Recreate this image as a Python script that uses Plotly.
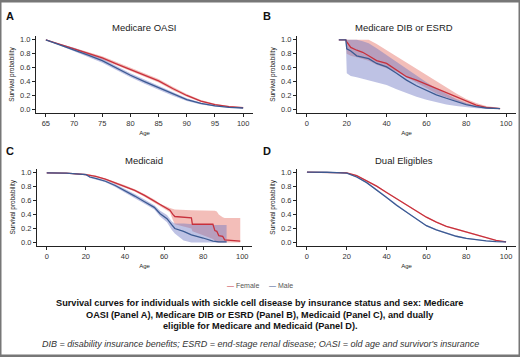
import plotly.graph_objects as go

# ---------------- DATA ----------------
# Panel A: Medicare OASI
a_age = [65, 67.5, 70, 72.5, 75, 77.5, 80, 82.5, 85, 87.5, 90, 92.5, 95, 97.5, 100]
a_f = [1.0, 0.935, 0.87, 0.805, 0.74, 0.655, 0.57, 0.49, 0.41, 0.30, 0.20, 0.12, 0.07, 0.04, 0.025]
a_f_hi = [1.0, 0.945, 0.885, 0.825, 0.765, 0.68, 0.595, 0.515, 0.435, 0.325, 0.22, 0.135, 0.08, 0.048, 0.032]
a_f_lo = [1.0, 0.925, 0.855, 0.785, 0.715, 0.63, 0.545, 0.465, 0.385, 0.275, 0.18, 0.105, 0.06, 0.032, 0.018]
a_m = [1.0, 0.93, 0.86, 0.78, 0.70, 0.595, 0.49, 0.40, 0.31, 0.22, 0.14, 0.085, 0.05, 0.03, 0.02]
a_m_hi = [1.0, 0.945, 0.885, 0.81, 0.73, 0.625, 0.52, 0.43, 0.34, 0.245, 0.16, 0.10, 0.062, 0.04, 0.028]
a_m_lo = [1.0, 0.915, 0.835, 0.75, 0.67, 0.565, 0.46, 0.37, 0.28, 0.195, 0.12, 0.07, 0.04, 0.022, 0.014]

# Panel B: Medicare DIB or ESRD
b_age = [16, 19.5, 20, 22, 25, 28, 31, 35, 40, 45, 50, 55, 60, 65, 70, 75, 80, 85, 90, 97]
b_f = [1.0, 1.0, 0.97, 0.89, 0.85, 0.82, 0.77, 0.70, 0.66, 0.56, 0.47, 0.42, 0.36, 0.29, 0.23, 0.17, 0.11, 0.06, 0.03, 0.01]
b_f_hi = [1.0, 1.0, 1.0, 1.0, 1.0, 1.0, 1.0, 0.94, 0.85, 0.76, 0.68, 0.59, 0.50, 0.40, 0.31, 0.23, 0.15, 0.09, 0.05, 0.02]
b_f_lo = [1.0, 1.0, 0.80, 0.77, 0.75, 0.72, 0.70, 0.64, 0.59, 0.54, 0.46, 0.38, 0.30, 0.23, 0.17, 0.12, 0.07, 0.035, 0.015, 0.005]
b_m = [1.0, 1.0, 0.87, 0.84, 0.77, 0.75, 0.73, 0.66, 0.61, 0.52, 0.42, 0.34, 0.27, 0.21, 0.16, 0.11, 0.07, 0.04, 0.02, 0.01]
b_m_hi = [1.0, 1.0, 1.0, 1.0, 1.0, 0.98, 0.95, 0.88, 0.78, 0.68, 0.58, 0.48, 0.39, 0.30, 0.22, 0.15, 0.09, 0.05, 0.025, 0.012]
b_m_lo = [1.0, 1.0, 0.52, 0.48, 0.46, 0.44, 0.42, 0.39, 0.35, 0.29, 0.23, 0.18, 0.14, 0.10, 0.07, 0.05, 0.03, 0.015, 0.008, 0.004]

# Panel C: Medicaid
c_f_age = [0, 10, 20, 22, 25, 30, 35, 40, 45, 50, 55, 58, 63, 64.5, 65.5, 74, 74.5, 85, 86, 87, 88, 90, 91, 99]
c_f = [0.99, 0.985, 0.965, 0.955, 0.94, 0.90, 0.85, 0.80, 0.74, 0.67, 0.59, 0.53, 0.46, 0.40, 0.37, 0.35, 0.26, 0.26, 0.17, 0.16, 0.10, 0.09, 0.04, 0.02]
c_f_hi = [0.995, 0.99, 0.975, 0.965, 0.95, 0.91, 0.865, 0.815, 0.755, 0.69, 0.61, 0.55, 0.49, 0.48, 0.47, 0.46, 0.46, 0.46, 0.45, 0.44, 0.40, 0.36, 0.35, 0.35]
c_f_lo = [0.985, 0.98, 0.955, 0.945, 0.93, 0.885, 0.835, 0.785, 0.725, 0.65, 0.57, 0.51, 0.43, 0.32, 0.26, 0.20, 0.16, 0.05, 0.02, 0.0, 0.0, 0.0, 0.0, 0.0]
c_m_age = [0, 10, 20, 22, 25, 30, 35, 40, 45, 50, 55, 58, 61.5, 64, 65.5, 70, 74, 80, 85, 88, 92]
c_m = [0.99, 0.985, 0.965, 0.93, 0.91, 0.87, 0.81, 0.74, 0.66, 0.58, 0.50, 0.41, 0.34, 0.25, 0.20, 0.16, 0.11, 0.065, 0.02, 0.01, 0.01]
c_m_hi = [0.995, 0.99, 0.975, 0.945, 0.925, 0.885, 0.83, 0.765, 0.69, 0.61, 0.53, 0.45, 0.39, 0.30, 0.27, 0.27, 0.26, 0.25, 0.25, 0.25, 0.25]
c_m_lo = [0.985, 0.98, 0.955, 0.915, 0.895, 0.855, 0.79, 0.715, 0.63, 0.55, 0.47, 0.37, 0.29, 0.18, 0.13, 0.03, 0.0, 0.0, 0.0, 0.0, 0.0]

# Panel D: Dual Eligibles
d_age = [0, 10, 20, 25, 30, 35, 40, 45, 50, 55, 60, 65, 70, 75, 80, 85, 90, 95, 100]
d_f = [1.0, 0.998, 0.99, 0.95, 0.88, 0.80, 0.71, 0.62, 0.54, 0.45, 0.36, 0.29, 0.23, 0.19, 0.15, 0.11, 0.065, 0.03, 0.01]
d_f_hi = [1.0, 1.0, 0.995, 0.96, 0.89, 0.81, 0.72, 0.63, 0.55, 0.46, 0.37, 0.30, 0.24, 0.20, 0.16, 0.12, 0.072, 0.036, 0.015]
d_f_lo = [1.0, 0.996, 0.985, 0.94, 0.87, 0.79, 0.70, 0.61, 0.53, 0.44, 0.35, 0.28, 0.22, 0.18, 0.14, 0.10, 0.058, 0.024, 0.005]
d_m = [1.0, 0.998, 0.985, 0.93, 0.85, 0.75, 0.64, 0.53, 0.43, 0.33, 0.24, 0.18, 0.13, 0.09, 0.06, 0.04, 0.025, 0.015, 0.01]
d_m_hi = [1.0, 1.0, 0.99, 0.94, 0.86, 0.76, 0.65, 0.54, 0.44, 0.34, 0.25, 0.19, 0.14, 0.10, 0.068, 0.047, 0.031, 0.02, 0.014]
d_m_lo = [1.0, 0.996, 0.98, 0.92, 0.84, 0.74, 0.63, 0.52, 0.42, 0.32, 0.23, 0.17, 0.12, 0.08, 0.052, 0.033, 0.019, 0.01, 0.006]

panel_titles = ["Medicare OASI", "Medicare DIB or ESRD", "Medicaid", "Dual Eligibles"]
panel_letters = ["A", "B", "C", "D"]
series_names = ["Female", "Male"]
y_ticks = [0.0, 0.2, 0.4, 0.6, 0.8, 1.0]
x_ticks_a = [65, 70, 75, 80, 85, 90, 95, 100]
x_ticks_bcd = [0, 20, 40, 60, 80, 100]

caption_lines = [
    "Survival curves for individuals with sickle cell disease by insurance status and sex: Medicare",
    "OASI (Panel A), Medicare DIB or ESRD (Panel B), Medicaid (Panel C), and dually",
    "eligible for Medicare and Medicaid (Panel D).",
]
footnote = "DIB = disability insurance benefits; ESRD = end-stage renal disease; OASI = old age and survivor's insurance"

# ---------------- STYLE ----------------
W, H = 520, 357
RED = "#c8303c"
BLUE = "#3b5a92"
RED_FILL = "rgba(228,110,100,0.45)"
BLUE_FILL = "rgba(110,120,195,0.45)"
FONT = "Liberation Sans, Arial, sans-serif"

fig = go.Figure()

panels = [
    dict(f=(a_age, a_f, a_f_lo, a_f_hi), m=(a_age, a_m, a_m_lo, a_m_hi)),
    dict(f=(b_age, b_f, b_f_lo, b_f_hi), m=(b_age, b_m, b_m_lo, b_m_hi)),
    dict(f=(c_f_age, c_f, c_f_lo, c_f_hi), m=(c_m_age, c_m, c_m_lo, c_m_hi)),
    dict(f=(d_age, d_f, d_f_lo, d_f_hi), m=(d_age, d_m, d_m_lo, d_m_hi)),
]

for i, p in enumerate(panels):
    xa = "x" if i == 0 else f"x{i+1}"
    ya = "y" if i == 0 else f"y{i+1}"
    for key, fill in [("f", RED_FILL), ("m", BLUE_FILL)]:
        ages, s, lo, hi = p[key]
        fig.add_trace(go.Scatter(x=ages, y=hi, mode="lines", line=dict(width=0),
                                 xaxis=xa, yaxis=ya, showlegend=False, hoverinfo="skip"))
        fig.add_trace(go.Scatter(x=ages, y=lo, mode="lines", line=dict(width=0),
                                 fill="tonexty", fillcolor=fill,
                                 xaxis=xa, yaxis=ya, showlegend=False, hoverinfo="skip"))
    for key, col, name in [("f", RED, series_names[0]), ("m", BLUE, series_names[1])]:
        ages, s, lo, hi = p[key]
        fig.add_trace(go.Scatter(x=ages, y=s, mode="lines", name=name,
                                 line=dict(color=col, width=1.3),
                                 xaxis=xa, yaxis=ya, showlegend=False))

def px_x(a, b):
    return [a / W, b / W]

def px_y(top, bottom):
    return [1 - bottom / H, 1 - top / H]

x_doms = [px_x(36, 253), px_x(297, 516), px_x(37, 252), px_x(297, 516)]
y_doms = [px_y(35.5, 112.5), px_y(35.5, 112.5), px_y(168.5, 246.5), px_y(168.5, 246.5)]
x_ranges = [[63.25, 101.75], [-5, 105], [-5, 105], [-5, 105]]

axis_common = dict(showline=True, linecolor="#222", linewidth=1, ticks="outside", ticklen=3,
                   tickcolor="#222", tickwidth=1, showgrid=False, zeroline=False,
                   tickfont=dict(size=7.5, color="#333", family=FONT))

layout = {}
for i in range(4):
    xk = "xaxis" if i == 0 else f"xaxis{i+1}"
    yk = "yaxis" if i == 0 else f"yaxis{i+1}"
    ya = "y" if i == 0 else f"y{i+1}"
    xa = "x" if i == 0 else f"x{i+1}"
    layout[xk] = dict(axis_common, domain=x_doms[i], range=x_ranges[i], anchor=ya,
                      tickvals=(x_ticks_a if i == 0 else x_ticks_bcd),
                      title=dict(text="Age", font=dict(size=6, color="#222", family=FONT), standoff=3))
    layout[yk] = dict(axis_common, domain=y_doms[i], range=[-0.05, 1.05], anchor=xa,
                      tickvals=y_ticks, tickformat=".1f",
                      title=dict(text="Survival probability", font=dict(size=6.5, color="#222", family=FONT), standoff=4))

annotations = []
title_pos = [(144, 27), (404, 27), (144, 160), (404, 160)]
letter_pos = [(10, 15), (267, 15), (10, 151), (267, 151)]
for t, (x, y) in zip(panel_titles, title_pos):
    annotations.append(dict(text=t, x=x / W, y=1 - y / H, xref="paper", yref="paper", showarrow=False,
                            xanchor="center", yanchor="middle", font=dict(size=9.5, color="#222", family=FONT)))
for t, (x, y) in zip(panel_letters, letter_pos):
    annotations.append(dict(text=f"<b>{t}</b>", x=x / W, y=1 - y / H, xref="paper", yref="paper", showarrow=False,
                            xanchor="center", yanchor="middle", font=dict(size=11, color="#111", family=FONT)))
# legend (compact key like the original)
legend_text = (f"<span style='color:{RED}'>—</span> {series_names[0]}"
               f"     <span style='color:{BLUE}'>—</span> {series_names[1]}")
annotations.append(dict(text=legend_text, x=0.5, y=1 - 286 / H, xref="paper", yref="paper", showarrow=False,
                        xanchor="center", yanchor="middle", font=dict(size=7, color="#555", family=FONT)))
for t, y in zip(caption_lines, [304, 315.5, 327]):
    annotations.append(dict(text=f"<b>{t}</b>", x=0.5, y=1 - y / H, xref="paper", yref="paper", showarrow=False,
                            xanchor="center", yanchor="middle", font=dict(size=9.2, color="#111", family=FONT)))
annotations.append(dict(text=f"<i>{footnote}</i>", x=0.5, y=1 - 345 / H, xref="paper", yref="paper",
                        showarrow=False, xanchor="center", yanchor="middle",
                        font=dict(size=9, color="#333", family=FONT)))

fig.update_layout(
    **layout,
    width=W, height=H,
    margin=dict(l=0, r=0, t=0, b=0),
    paper_bgcolor="white", plot_bgcolor="white",
    font=dict(family=FONT),
    showlegend=False,
    annotations=annotations,
    shapes=[dict(type="rect", xref="paper", yref="paper", x0=0, x1=1, y0=0, y1=1,
                 line=dict(color="#777", width=3), fillcolor="rgba(0,0,0,0)", layer="above")],
)

fig.write_html("out.html", config={"displayModeBar": False},
               post_script="document.body.style.margin='0';document.body.style.overflow='hidden';")
